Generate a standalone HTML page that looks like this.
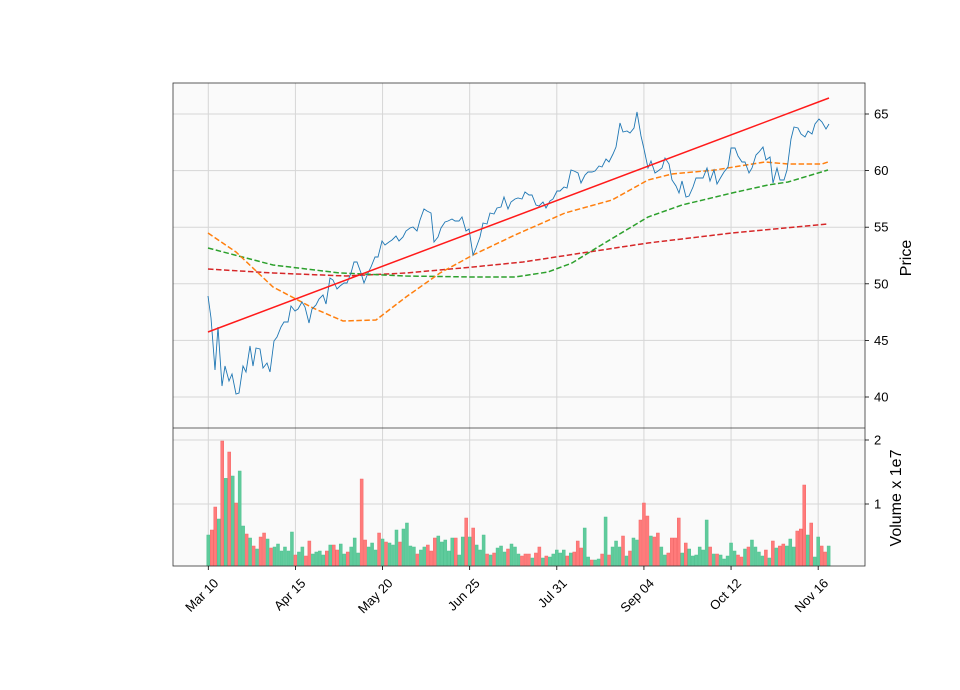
<!DOCTYPE html>
<html><head><meta charset="utf-8"><style>
html,body{margin:0;padding:0;background:#fff;}
svg{display:block;font-family:"Liberation Sans","DejaVu Sans",sans-serif;}
</style></head><body>
<svg id="s" width="960" height="690" viewBox="0 0 960 690" xmlns="http://www.w3.org/2000/svg">
<rect x="173" y="83" width="692" height="483" fill="#fafafa"/>
<g id="grid" stroke="#d6d6d6" stroke-width="1"></g>
<g id="bars"></g>
<polyline fill="none" stroke="#d62728" stroke-width="1.5" stroke-dasharray="5.5,2.5" points="208,269 273,273 346,276 406,273 473,267 523,262 582,253 648,243 732,233 828,224"/>
<polyline fill="none" stroke="#2ca02c" stroke-width="1.5" stroke-dasharray="5.5,2.5" points="208,248 273,265 340,273 406,276 473,277 515,277 548,272 572,263 598,247 648,217 682,205 732,193 768,185 788,182 828,170"/>
<polyline fill="none" stroke="#ff7f0e" stroke-width="1.5" stroke-dasharray="5.5,2.5" points="208,233 236,252 273,287 313,308 343,321 376,320 406,297 440,273 473,255 515,235 565,213 612,200 648,180 672,174 715,170 765,162 788,164 822,164 828,162"/>
<polyline fill="none" stroke="#1f77b4" stroke-width="0.9" points="208,296 211,318 215,370 218,327 222,386 225,366 229,381 232,374 236,394 239,393 243,366 246,372 250,346 253,366 256,348 260,349 263,368 267,363 270,372 274,341 277,337 281,327 284,322 288,322 291,306 295,311 298,309 302,302 305,307 309,323 312,309 316,305 319,299 323,295 326,304 330,278 333,280 337,289 340,286 344,283 347,283 351,273 354,262 357,262 361,273 364,283 368,273 371,267 375,257 378,257 382,241 385,245 389,242 392,240 396,236 399,241 403,237 406,231 410,228 413,227 417,231 420,220 424,209 427,211 431,213 434,242 438,237 441,228 445,222 448,221 452,219 455,221 459,221 462,217 466,231 469,229 473,255 476,248 480,237 483,223 487,224 490,213 494,214 497,208 501,207 504,197 508,209 511,202 515,199 518,198 522,199 525,192 529,195 532,195 536,205 539,206 543,202 546,208 550,201 553,199 557,191 560,191 564,187 567,188 571,170 574,171 578,173 581,183 585,175 588,172 592,172 595,171 599,166 602,167 606,159 609,162 613,154 616,147 620,123 623,132 627,131 630,133 634,128 637,112 641,136 644,149 648,168 651,161 655,173 658,171 662,168 665,158 669,164 672,180 676,186 679,193 682,181 686,197 689,196 693,187 696,178 700,178 703,178 707,168 710,181 714,170 717,184 721,177 724,172 728,167 731,148 735,148 738,156 742,162 745,162 749,173 752,168 756,155 759,152 763,147 766,160 770,157 773,183 777,168 780,180 784,180 787,170 791,139 794,127 798,128 801,134 805,137 808,131 812,134 815,124 819,119 822,122 826,129 829,124"/>
<line x1="208" y1="332" x2="829" y2="98" stroke="#ff1a1a" stroke-width="1.5"/>
<rect x="173" y="83" width="692" height="483" fill="none" stroke="#333" stroke-width="0.8"/>
<line x1="173" y1="428" x2="865" y2="428" stroke="#333" stroke-width="0.8"/>
<g id="ticks" stroke="#000" stroke-width="0.8"></g>
<g id="lbl" font-size="13" fill="#000"></g>
<text transform="translate(911,258) rotate(-90)" text-anchor="middle" font-size="16">Price</text>
<text transform="translate(901,498) rotate(-90)" text-anchor="middle" font-size="16">Volume x 1e7</text>
</svg>
<script>
var NS="http://www.w3.org/2000/svg";
function el(p,t,a,txt){var e=document.createElementNS(NS,t);for(var k in a)e.setAttribute(k,a[k]);if(txt)e.textContent=txt;document.getElementById(p).appendChild(e);return e;}
var X0=208.3,DX=3.485;
var xt=[[0,"Mar 10"],[25,"Apr 15"],[50,"May 20"],[75,"Jun 25"],[100,"Jul 31"],[125,"Sep 04"],[150,"Oct 12"],[175,"Nov 16"]];
xt.forEach(function(t){var x=X0+t[0]*DX;el("grid","line",{x1:x,y1:83,x2:x,y2:566});el("ticks","line",{x1:x,y1:566,x2:x,y2:570});
el("lbl","text",{transform:"translate("+(x+11)+",584) rotate(-45)","text-anchor":"end"},t[1]);});
for(var p=40;p<=65;p+=5){var y=397-(p-40)*11.32;el("grid","line",{x1:173,y1:y,x2:865,y2:y});el("ticks","line",{x1:865,y1:y,x2:869,y2:y});el("lbl","text",{x:874,y:y+4.5},String(p));}
[[1,504],[2,440]].forEach(function(v){el("grid","line",{x1:173,y1:v[1],x2:865,y2:v[1]});el("ticks","line",{x1:865,y1:v[1],x2:869,y2:v[1]});el("lbl","text",{x:874,y:v[1]+4.5},String(v[0]));});
var d="G315 R300 R231 G267 R33 G145 R66 G138 R219 G123 G288 R312 G324 R348 G357 R321 R309 G327 R354 G351 G342 G363 G351 G363 G306 R375 G366 G351 R378 R333 G372 G366 G363 G375 R363 G345 R345 R360 G342 G372 R366 G351 G324 G369 R147 R330 G351 G339 G360 R309 G327 R336 G339 G345 G300 R336 G297 G279 G348 G351 R372 G360 G351 R345 R363 R324 G318 G336 G330 G363 G324 R324 G375 G321 R264 G321 R294 G345 G360 G315 R372 G375 R369 G354 G348 G366 R357 G342 G351 G372 R378 R372 R372 G384 R369 R351 G384 R378 G381 G372 G360 G369 G360 R378 G369 R366 R333 R354 G294 G381 R390 G390 G387 R372 G261 R375 G351 G333 G351 R318 G378 R363 G324 G330 R270 R219 R258 G318 R321 R309 G351 G375 R369 R324 R324 R264 G369 R339 G357 G378 G375 G351 G360 G270 R351 G372 R372 G375 G387 G378 G339 G363 R375 R381 G357 R351 G330 G351 G366 G378 R360 G384 R333 G354 R348 R342 G348 G327 G351 R303 R297 R165 G315 R279 G381 G321 R348 R366 G348".split(" ");
d.forEach(function(s,i){var y=430+parseInt(s.slice(1))/3;var x=X0+i*DX;var r=s[0]=="R";
el("bars","rect",{x:x-1.5,y:y,width:3,height:566-y,fill:r?"#ff7b7b":"#5fcb9c",stroke:r?"#f46868":"#4fc290","stroke-width":0.5});});
</script>
</body></html>
